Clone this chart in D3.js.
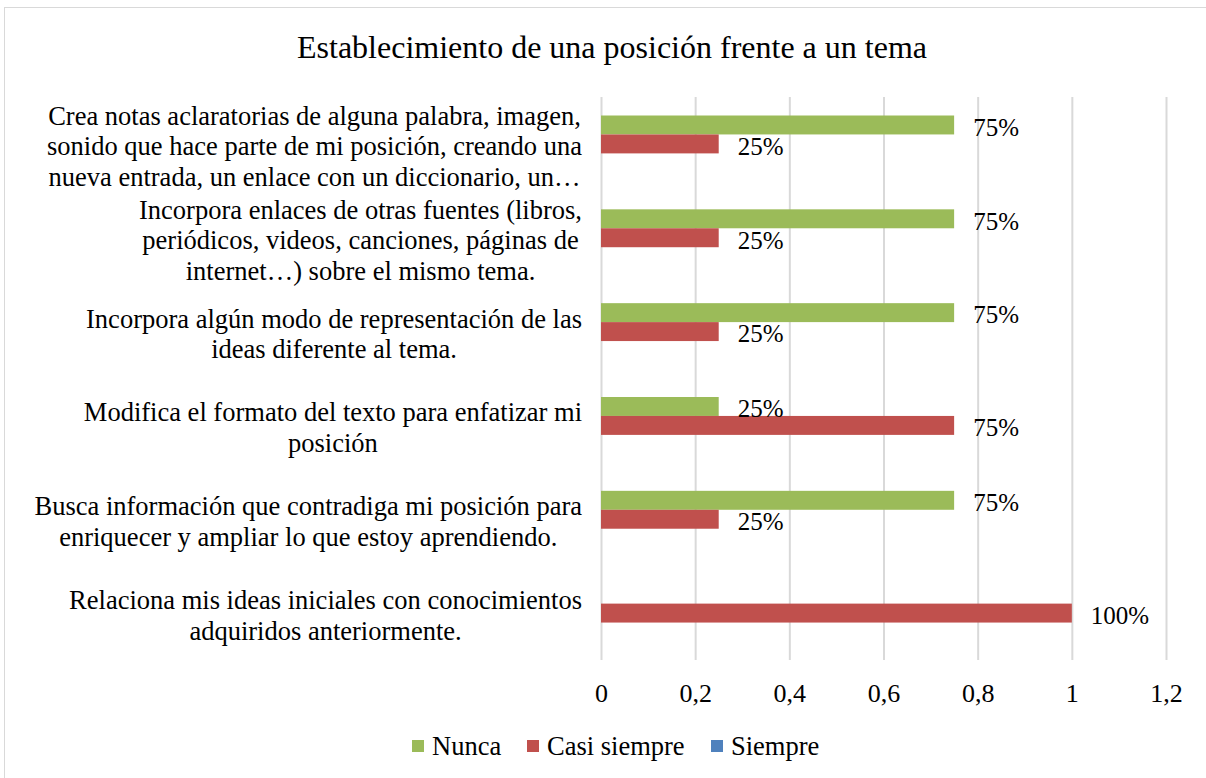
<!DOCTYPE html>
<html lang="es">
<head>
    <meta charset="utf-8">
    <style type="text/css">
        body {
            margin: 0;
            background-color: #fff;
        }

        svg text {
            font-family: "Liberation Serif", "Times New Roman", serif;
            fill: #000;
        }
    </style>
    <script src="https://d3js.org/d3.v7.min.js"></script>
    <title>Establecimiento de una posición frente a un tema</title>
</head>
<body>
    <div id="chart"></div>
    <script>

        // Categories, top to bottom, already split into lines
        var categories = [
            ["Crea notas aclaratorias de alguna palabra, imagen,", "sonido que hace parte de mi posición, creando una", "nueva entrada, un enlace con un diccionario, un…"],
            ["Incorpora enlaces de otras fuentes (libros,", "periódicos, videos, canciones, páginas de", "internet…) sobre el mismo tema."],
            ["Incorpora algún modo de representación de las", "ideas diferente al tema."],
            ["Modifica el formato del texto para enfatizar mi", "posición"],
            ["Busca información que contradiga mi posición para", "enriquecer y ampliar lo que estoy aprendiendo."],
            ["Relaciona mis ideas iniciales con conocimientos", "adquiridos anteriormente."]
        ];
        var seriesNames = ["Nunca", "Casi siempre", "Siempre"];
        var nunca = [0.75, 0.75, 0.75, 0.25, 0.75, 0];
        var casiSiempre = [0.25, 0.25, 0.25, 0.75, 0.25, 1];
        var siempre = [0, 0, 0, 0, 0, 0];
        var xTicks = [0, 0.2, 0.4, 0.6, 0.8, 1, 1.2];
        var colors = ["#9BBB59", "#C0504D", "#4F81BD"];

        var values = [nunca, casiSiempre, siempre];
        var width = 1206, height = 778;

        var svg = d3.select("#chart").append("svg")
            .attr("width", width)
            .attr("height", height);

        // chart border
        svg.append("rect")
            .attr("x", 4.5).attr("y", 7.5)
            .attr("width", 1210).attr("height", 800)
            .attr("fill", "none")
            .attr("stroke", "#d9d9d9");

        svg.append("text")
            .attr("x", 612).attr("y", 47)
            .attr("dy", "0.35em")
            .attr("text-anchor", "middle")
            .style("font-size", "32px")
            .text("Establecimiento de una posición frente a un tema");

        var x = d3.scaleLinear().domain([0, 1.2]).range([601, 1166]);
        var y = d3.scaleBand().domain(d3.range(categories.length)).range([97, 660]);
        var gap = 18.5;
        var y1 = d3.scaleBand().domain(d3.range(seriesNames.length))
            .range([gap, y.bandwidth() - gap]);

        // gridlines
        svg.append("g").selectAll("line")
            .data(xTicks)
            .join("line")
            .attr("x1", d => x(d) + 0.5).attr("x2", d => x(d) + 0.5)
            .attr("y1", 97).attr("y2", 660)
            .attr("stroke", "#d9d9d9")
            .attr("stroke-width", 2);

        // x axis labels
        var xAxis = svg.append("g")
            .attr("transform", "translate(0,660)")
            .call(d3.axisBottom(x).tickValues(xTicks)
                .tickFormat(d => String(d).replace(".", ","))
                .tickSize(0));
        xAxis.select(".domain").remove();
        xAxis.selectAll("text")
            .attr("y", 33)
            .attr("dy", "0.35em")
            .style("font-size", "26px")
            .style("font-family", "'Liberation Serif', serif")
            .attr("fill", "#000");

        // bars
        var rows = [];
        categories.forEach(function(c, i) {
            values.forEach(function(v, s) {
                rows.push({ cat: i, s: s, v: v[i] });
            });
        });

        svg.append("g").selectAll("rect")
            .data(rows)
            .join("rect")
            .attr("x", x(0))
            .attr("y", d => y(d.cat) + y1(d.s))
            .attr("width", d => x(d.v) - x(0))
            .attr("height", y1.bandwidth())
            .attr("fill", d => colors[d.s]);

        // data labels (zero values are not shown)
        svg.append("g").selectAll("text")
            .data(rows.filter(d => d.v > 0))
            .join("text")
            .attr("x", d => x(d.v) + 19)
            .attr("y", d => y(d.cat) + y1(d.s) + y1.bandwidth() / 2 + 2)
            .attr("dy", "0.35em")
            .style("font-size", "25px")
            .text(d => Math.round(d.v * 100) + "%");

        // category labels, centred lines in a right aligned block
        var labelRight = 582, lineH = 30.5;
        var labels = svg.append("g").selectAll("g")
            .data(categories)
            .join("g");

        labels.each(function(lines, i) {
            var g = d3.select(this);
            var t = g.selectAll("text")
                .data(lines)
                .join("text")
                .attr("text-anchor", "middle")
                .style("font-size", "26.5px")
                .attr("dy", "0.35em")
                .text(d => d);
            var maxW = d3.max(t.nodes(), n => n.getComputedTextLength());
            var cy = y(i) + y.bandwidth() / 2 + 2;
            t.attr("x", labelRight - maxW / 2)
                .attr("y", (d, k) => cy + (k - (lines.length - 1) / 2) * lineH);
        });

        // legend
        var legendX = [412, 527, 711];
        var legend = svg.append("g").selectAll("g")
            .data(seriesNames)
            .join("g")
            .attr("transform", (d, i) => "translate(" + legendX[i] + ",746)");
        legend.append("rect")
            .attr("x", 0).attr("y", -6)
            .attr("width", 12).attr("height", 12)
            .attr("fill", (d, i) => colors[i]);
        legend.append("text")
            .attr("x", 20).attr("y", 0)
            .attr("dy", "0.35em")
            .style("font-size", "26.5px")
            .text(d => d);

    </script>
</body>
</html>
